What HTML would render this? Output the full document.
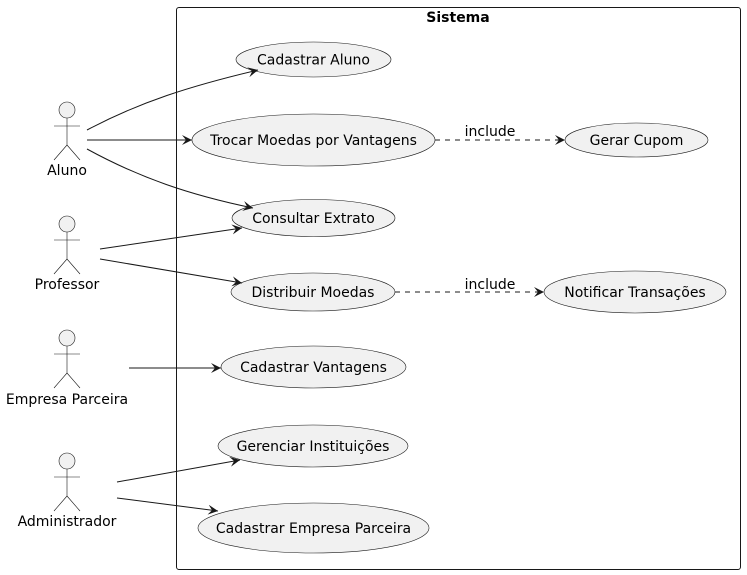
<!DOCTYPE html>
<html><head><meta charset="utf-8"><style>body{margin:0;background:#fff}svg{display:block}text{font-family:"DejaVu Sans",sans-serif;font-size:14px;fill:#000}</style></head><body>
<svg width="747" height="575" viewBox="0 0 747 575">
<defs><marker id="a" markerWidth="12" markerHeight="10" refX="10" refY="5" orient="auto" markerUnits="userSpaceOnUse"><path d="M0,0 L10,5 L0,10 L4,5 Z" fill="#181818"/></marker></defs>
<rect x="176.5" y="7.5" width="564" height="562" rx="2.5" fill="none" stroke="#181818"/>
<text x="458" y="22" text-anchor="middle" font-weight="bold">Sistema</text>
<g fill="#f1f1f1" stroke="#181818" stroke-width="0.6">
<ellipse cx="313.5" cy="59.5" rx="77.5" ry="17.5"/>
<ellipse cx="313.5" cy="140" rx="121.5" ry="26"/>
<ellipse cx="313.5" cy="218" rx="81.5" ry="18.5"/>
<ellipse cx="313" cy="292" rx="82" ry="19"/>
<ellipse cx="313.5" cy="367" rx="92.5" ry="21"/>
<ellipse cx="313" cy="446" rx="95" ry="21"/>
<ellipse cx="313.5" cy="528" rx="115.5" ry="25"/>
<ellipse cx="636.5" cy="140" rx="71.5" ry="17"/>
<ellipse cx="635" cy="292" rx="91" ry="21"/>
</g>
<g text-anchor="middle">
<text x="313.5" y="64.5">Cadastrar Aluno</text>
<text x="313.5" y="145">Trocar Moedas por Vantagens</text>
<text x="313.5" y="223">Consultar Extrato</text>
<text x="313" y="297">Distribuir Moedas</text>
<text x="313.5" y="372">Cadastrar Vantagens</text>
<text x="313" y="451">Gerenciar Instituições</text>
<text x="313.5" y="533">Cadastrar Empresa Parceira</text>
<text x="636.5" y="145">Gerar Cupom</text>
<text x="635" y="297">Notificar Transações</text>
</g>
<g fill="#f1f1f1" stroke="#181818" stroke-width="0.6">
<g transform="translate(67,110)"><circle r="8"/><path d="M0,8V35M-13,16H13M0,35L-13,50M0,35L13,50" fill="none"/></g>
<g transform="translate(67,224)"><circle r="8"/><path d="M0,8V35M-13,16H13M0,35L-13,50M0,35L13,50" fill="none"/></g>
<g transform="translate(67,338)"><circle r="8"/><path d="M0,8V35M-13,16H13M0,35L-13,50M0,35L13,50" fill="none"/></g>
<g transform="translate(67,461)"><circle r="8"/><path d="M0,8V35M-13,16H13M0,35L-13,50M0,35L13,50" fill="none"/></g>
</g>
<g text-anchor="middle">
<text x="67" y="175">Aluno</text>
<text x="67" y="289">Professor</text>
<text x="67" y="404">Empresa Parceira</text>
<text x="67" y="526">Administrador</text>
</g>
<g fill="none" stroke="#181818" stroke-width="1" marker-end="url(#a)">
<path d="M87,130 C140,102 190,86 258,70"/>
<path d="M87,140 H192"/>
<path d="M87,149 C140,178 190,195 253,208"/>
<path d="M100,249 L242,228"/>
<path d="M100,259 L242,283"/>
<path d="M129,368 H221"/>
<path d="M117,482 L240,460"/>
<path d="M117,498 L218,511"/>
<path d="M435,140 H565" stroke-dasharray="5,5"/>
<path d="M395,292 H544" stroke-dasharray="5,5"/>
</g>
<text x="490" y="136" text-anchor="middle" font-size="13">include</text>
<text x="490" y="289" text-anchor="middle" font-size="13">include</text>
</svg>
</body></html>
